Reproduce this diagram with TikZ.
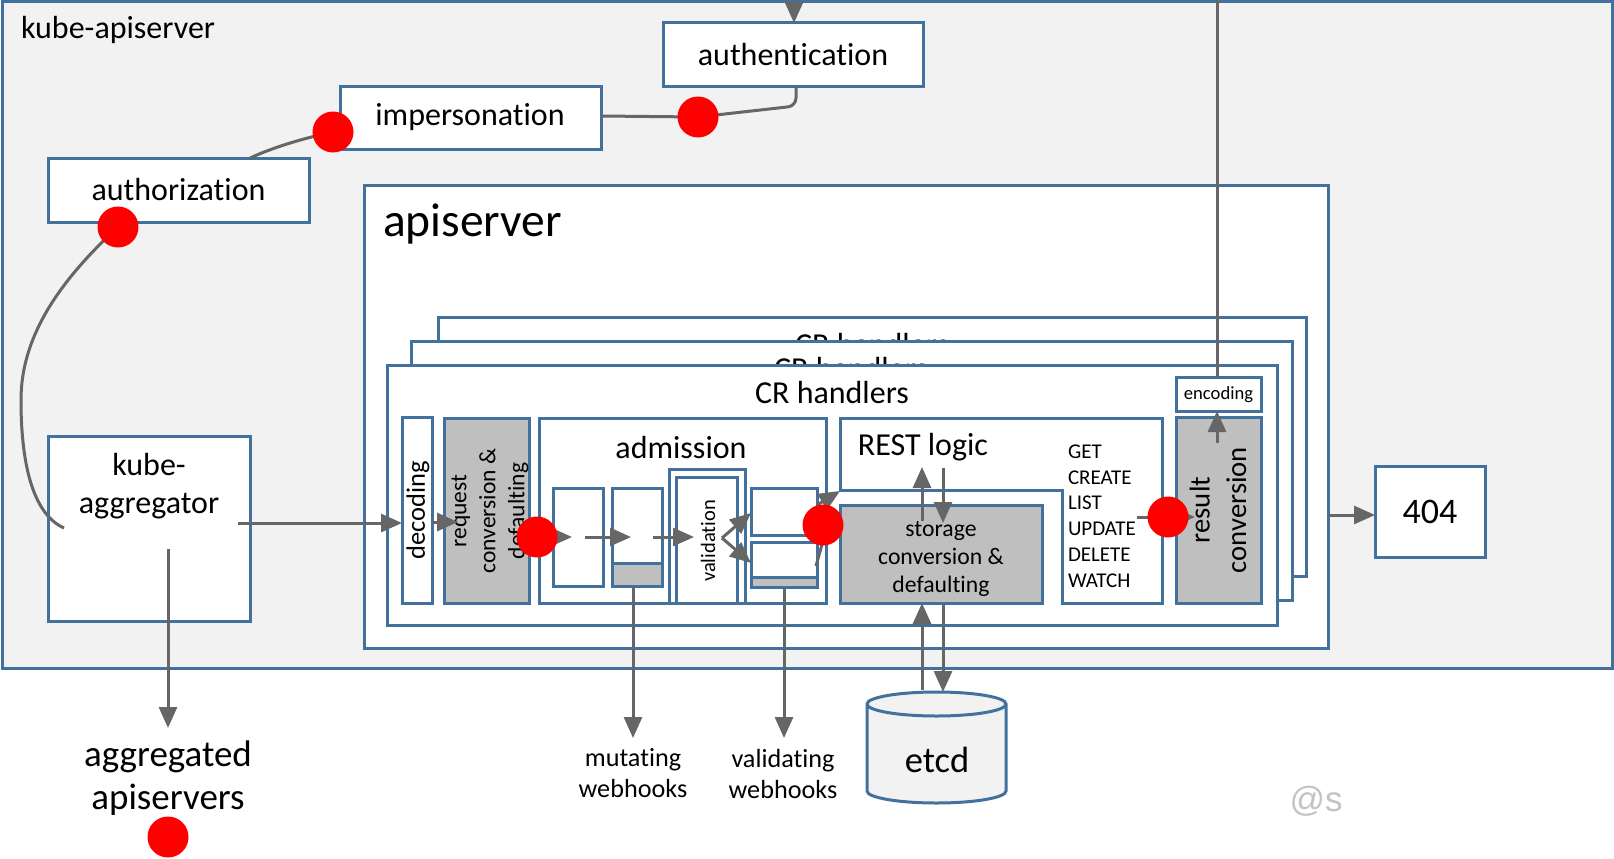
\documentclass[tikz,border=0pt]{standalone}
\usepackage{fontspec}
\setmainfont{Carlito}[Ligatures=NoCommon]
\newfontfamily\wmfont{Liberation Sans}
\usetikzlibrary{arrows.meta,fit}
\definecolor{bl}{RGB}{65,113,156}
\definecolor{gy}{RGB}{191,191,191}
\definecolor{bgc}{RGB}{242,242,242}
\definecolor{ar}{RGB}{102,102,102}
\definecolor{wm}{RGB}{195,195,195}
\newcommand\fsz[2]{\fontsize{#1}{#2}\selectfont}
\tikzset{
  bx/.style={draw=bl, line width=3pt, fill=white, inner sep=0pt, outer sep=0pt},
  gbx/.style={bx, fill=gy},
  tx/.style={inner sep=0pt, outer sep=0pt, font=\fsz{32}{38}, align=center},
  conn/.style={draw=ar, line width=3pt},
  arr/.style={conn, -{Triangle[length=21pt,width=18pt]}},
  reddot/.style={circle, fill=red, draw=none, minimum size=41pt, inner sep=0pt},
}
\begin{document}
\begin{tikzpicture}[x=1pt,y=-1pt]
\useasboundingbox (0,0) rectangle (1614,859);
% outer kube-apiserver
\node[bx, fill=bgc, fit={(2,1.5) (1612,668)}] (kube) {};
\node[tx, anchor=west] (kubelbl) at (21,30) {kube-apiserver};
\node[bx, fit={(663,23) (923,86)}] (authn) {};
\node[tx] (authnlbl) at (authn) {authentication};
\node[bx, fit={(340,86) (601,149)}] (imp) {};
\node[tx] (implbl) at (470,117) {impersonation};
\node[bx, fit={(48,158) (309,222)}] (authz) {};
\node[tx] (authzlbl) at (authz) {authorization};
\node[bx, fit={(48,436) (250,621)}] (aggr) {};
\node[tx] (aggrlbl) at (149,486) {kube-\\aggregator};
% apiserver
\node[bx, fit={(364,185) (1328,648)}] (api) {};
\node[tx, anchor=west, font=\fsz{47.5}{57}] (apilbl) at (383,224) {apiserver};
\node[bx, fit={(438,317) (1306,576)}] (cr3) {};
\node[tx, anchor=base] (cr3lbl) at (872,355) {CR handlers};
\node[bx, fit={(411,341) (1292,600)}] (cr2) {};
\node[tx, anchor=base] (cr2lbl) at (851,379) {CR handlers};
\node[bx, fit={(387,365) (1277,625)}] (cr1) {};
\node[tx, anchor=base] (cr1lbl) at (832,403) {CR handlers};
% request path
\node[bx, fit={(402,417) (432,603)}] (dec) {};
\node[tx, rotate=90, font=\fsz{26.5}{32}] (declbl) at (418,510) {decoding};
\node[gbx, fit={(444,418) (529,603)}] (req) {};
\node[tx, rotate=90, font=\fsz{23.5}{29}] (reqlbl) at (490,511) {request\\conversion \&\\defaulting};
\node[bx, fit={(539,418) (826,603)}] (adm) {};
\node[tx] (admlbl) at (681,448) {admission};
\node[bx, fit={(553,488) (603,586)}] (m1) {};
\node[bx, fit={(612,488) (662,586)}] (m2) {};
\node[gbx, fit={(612,563) (662,586)}] (m2g) {};
\node[bx, fit={(669,469) (745,603)}] (valo) {};
\node[bx, fit={(676,477) (737,603)}] (vali) {};
\node[tx, rotate=90, font=\fsz{20.5}{24}] (vallbl) at (708,541) {validation};
\node[bx, fit={(751,488) (817,535)}] (vup) {};
\node[bx, fit={(751,542) (817,587)}] (vlo) {};
\node[gbx, fit={(751,577) (817,587)}] (vlog) {};
% REST logic
\draw[draw=bl, line width=3pt, fill=white] (840,418) -- (1162,418) -- (1162,603) -- (1062,603) -- (1062,490) -- (840,490) -- cycle;
\node[tx] (restlbl) at (923,447) {REST logic};
\node[gbx, fit={(840,505) (1042,603)}] (stor) {};
\node[tx, font=\fsz{23.7}{28}] (storlbl) at (941,559) {storage\\conversion \&\\defaulting};
\node[tx, anchor=west, align=left, font=\fsz{21}{25.8}] (verbs) at (1068,516) {GET\\CREATE\\LIST\\UPDATE\\DELETE\\WATCH};
\node[bx, fit={(1176,377) (1261,411)}] (enc) {};
\node[tx, font=\fsz{18.6}{22}] (enclbl) at (1218.5,395) {encoding};
\node[gbx, fit={(1176,417) (1261,603)}] (res) {};
\node[tx, rotate=90, font=\fsz{28.7}{36.5}] (reslbl) at (1218,510) {result\\conversion};
\node[bx, fit={(1375,466) (1485,557)}] (e404) {};
\node[tx, font=\fsz{36}{43}] (e404lbl) at (e404) {404};
% etcd
\path[fill=bgc, draw=bl, line width=3pt] (867,704) -- (867,791) arc[start angle=180, end angle=0, x radius=69.5, y radius=12] -- (1006,704) arc[start angle=0, end angle=-180, x radius=69.5, y radius=12] -- cycle;
\draw[draw=bl, line width=3pt] (867,704) arc[start angle=180, end angle=0, x radius=69.5, y radius=12];
\node[tx, font=\fsz{36.5}{44}] (etcd) at (937,760) {etcd};
% labels below
\node[tx, font=\fsz{37}{43}] (aggap) at (168,778) {aggregated\\apiservers};
\node[tx, font=\fsz{26.2}{31}] (mut) at (633,773) {mutating\\webhooks};
\node[tx, font=\fsz{26.2}{31}] (valw) at (783,774) {validating\\webhooks};
\node[tx, font={\wmfont\fsz{35}{40}}, text=wm] (wmk) at (1316,801) {@s};
% coordinates
\coordinate (topin) at (794,0);
\coordinate (a1) at (796,106);
\coordinate (d3c) at (698,117);
\coordinate (a2) at (601,116);
\coordinate (d2c) at (333,132);
\coordinate (b1) at (250,158);
\coordinate (d1c) at (118,227);
\coordinate (c21) at (21,400);
\coordinate (e1) at (64,528);
\coordinate (g1) at (238,523);
\coordinate (g2) at (168,549);
\coordinate (g3) at (168,728);
\coordinate (h1) at (432,522);
\coordinate (h2) at (458,522);
\coordinate (d4c) at (537,537);
\coordinate (k1) at (572,537);
\coordinate (k2) at (585,537);
\coordinate (k3) at (631,537);
\coordinate (k4) at (653,537);
\coordinate (k5) at (694,537);
\coordinate (v1) at (722,538);
\coordinate (v2) at (751,513);
\coordinate (v3) at (751,563);
\coordinate (d5c) at (823,525);
\coordinate (r1) at (817,505);
\coordinate (r2) at (840,491);
\coordinate (r3) at (816,566);
\coordinate (r4) at (826,530);
\coordinate (s1) at (922,521);
\coordinate (s2) at (922,467);
\coordinate (s3) at (943,468);
\coordinate (s4) at (943,523);
\coordinate (t1) at (922,690);
\coordinate (t2) at (943,692);
\coordinate (d6c) at (1168,517);
\coordinate (u1) at (1137,517);
\coordinate (u2) at (1195,517);
\coordinate (w1) at (1217,443);
\coordinate (w2) at (1217,0);
\coordinate (x1) at (1328,515);
\coordinate (mw) at (633,738);
\coordinate (vw) at (784,738);
\coordinate (d7c) at (168,837);
% connectors
\draw[arr] (topin) -- (topin |- authn.north);
\draw[conn, rounded corners=8pt] (a1 |- authn.south) -- (a1) -- (d3c) -- (a2);
\draw[conn] (d2c) .. controls (300,139) and (272,148) .. (b1);
\draw[conn] (d1c) .. controls (55,285) and (21,340) .. (c21) .. controls (21,470) and (35,515) .. (e1);
\draw[arr] (g1) -- (g1 -| dec.west);
\draw[arr] (g2) -- (g3);
\draw[arr] (h1) -- (h2);
\draw[arr] (d4c) -- (k1);
\draw[arr] (k2) -- (k3);
\draw[arr] (k4) -- (k5);
\draw[arr] (v1) -- (v2);
\draw[arr] (v1) -- (v3);
\draw[arr] (r1) -- (r2);
\draw[conn] (r3) -- (r4);
\draw[arr] (s1) -- (s2);
\draw[arr] (s3) -- (s4);
\draw[arr] (t1) -- (t1 |- stor.south);
\draw[arr] (t2 |- stor.south) -- (t2);
\draw[arr] (u1) -- (u2);
\draw[arr] (w1) -- (w1 |- enc.south);
\draw[conn] (w1 |- enc.north) -- (w2);
\draw[arr] (x1) -- (x1 -| e404.west);
\draw[arr] (mw |- m2g.south) -- (mw);
\draw[arr] (vw |- vlog.south) -- (vw);
% red dots
\node[reddot] (dot1) at (d1c) {};
\node[reddot] (dot2) at (d2c) {};
\node[reddot] (dot3) at (d3c) {};
\node[reddot] (dot4) at (d4c) {};
\node[reddot] (dot5) at (d5c) {};
\node[reddot] (dot6) at (d6c) {};
\node[reddot] (dot7) at (d7c) {};
\end{tikzpicture}
\end{document}
